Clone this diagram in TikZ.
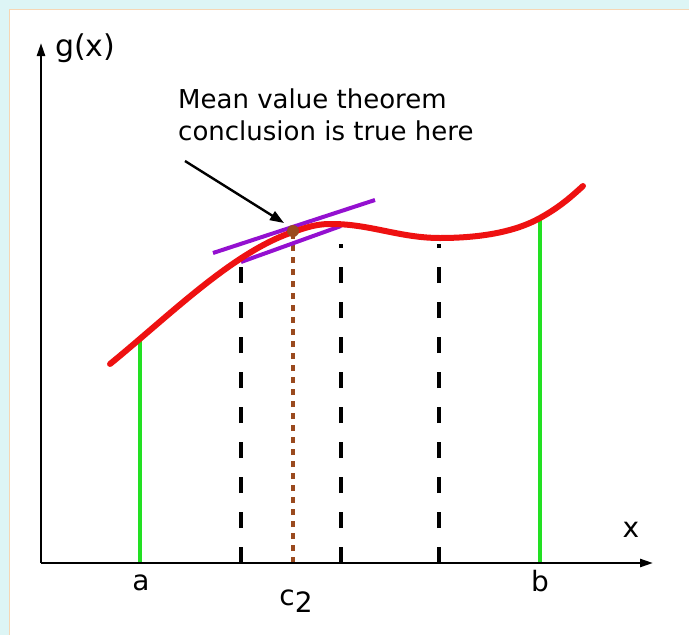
\documentclass[tikz,border=0pt]{standalone}
\usepackage{fontspec}
\setmainfont{DejaVu Sans}
\usetikzlibrary{arrows.meta}
\definecolor{bgcyan}{HTML}{DDF5F5}
\definecolor{edgepeach}{HTML}{F6D6B4}
\definecolor{curvered}{HTML}{EE1111}
\definecolor{lgreen}{HTML}{22E022}
\definecolor{violet2}{HTML}{9410D0}
\definecolor{brownd}{HTML}{9A4A1E}
\tikzset{
  axis/.style={line width=2.4pt,-{Triangle[length=13pt,width=8pt]}},
  bound/.style={lgreen,line width=4pt},
  division/.style={black,line width=3.5pt,dash pattern=on 16pt off 19pt},
  cline/.style={brownd,line width=4.5pt,dash pattern=on 6pt off 6pt},
  lineline/.style={violet2,line width=4pt},
  lbl/.style={font=\fontsize{28}{32}\selectfont,inner sep=0pt},
}
\begin{document}
\begin{tikzpicture}[x=1pt,y=-1pt]
\useasboundingbox (0,0) rectangle (689,635);
\fill[bgcyan] (0,0) rectangle (689,635);
\fill[white] (9,9) rectangle (689,635);
\draw[edgepeach,line width=1.5pt] (9.5,635) -- (9.5,9.5) -- (689,9.5);

% coordinates
\coordinate (O) at (41,563);
\coordinate (ytop) at (41,43);
\coordinate (xend) at (653,563);
\coordinate (pa) at (140,340);
\coordinate (pb) at (540,218);
\coordinate (a0) at (140,563);
\coordinate (b0) at (540,563);
\coordinate (d1) at (241,563);
\coordinate (d1t) at (241,262);
\coordinate (d2) at (341,563);
\coordinate (d2t) at (341,244);
\coordinate (d3) at (439,563);
\coordinate (d3t) at (439,244);
\coordinate (c0) at (293,563);
\coordinate (cp) at (293,231);
\coordinate (s1) at (241,262);
\coordinate (s2) at (341,226);
\coordinate (t1) at (213,253);
\coordinate (t2) at (375,200);
\coordinate (arrS) at (185,161);
\coordinate (arrE) at (284,223);

% vertical lines
\draw[bound] (a0) -- (pa);
\draw[bound] (b0) -- (pb);
\draw[division] (d1) -- (d1t);
\draw[division] (d2) -- (d2t);
\draw[division] (d3) -- (d3t);
\draw[cline] (c0) -- (cp);

% secant and tangent
\draw[lineline] (s1) -- (s2);
\draw[lineline] (t1) -- (t2);

% curve
\draw[curvered,line width=6pt,line cap=round]
  (110,364) .. controls (170,315) and (233,252) .. (293,232)
  .. controls (313,225) and (320,224) .. (332,224)
  .. controls (370,224) and (400,238) .. (440,238)
  .. controls (480,238) and (515,232) .. (540,218)
  .. controls (560,207) and (572,196) .. (583,186);

\fill[brownd] (cp) circle (6pt);

% axes
\draw[axis] (O) -- (ytop);
\draw[axis] (O) -- (xend);

% annotation arrow
\draw[line width=2.4pt,-{Triangle[length=14pt,width=10pt]}] (arrS) -- (arrE);

% labels
\node[lbl,anchor=west,font=\fontsize{30}{34}\selectfont] (gx) at (55,48) {g(x)};
\node[lbl] (xl) at (631,530) {x};
\node[lbl] (la) at (141,583) {a};
\node[lbl] (lb) at (540,581) {b};
\node[lbl] (lc) at (296,601) {c\raisebox{-7pt}{2}};
\node[anchor=north west,inner sep=0pt,align=left,font=\fontsize{26}{32}\selectfont] (txt) at (178,89)
 {Mean value theorem\\conclusion is true here};
\end{tikzpicture}
\end{document}
